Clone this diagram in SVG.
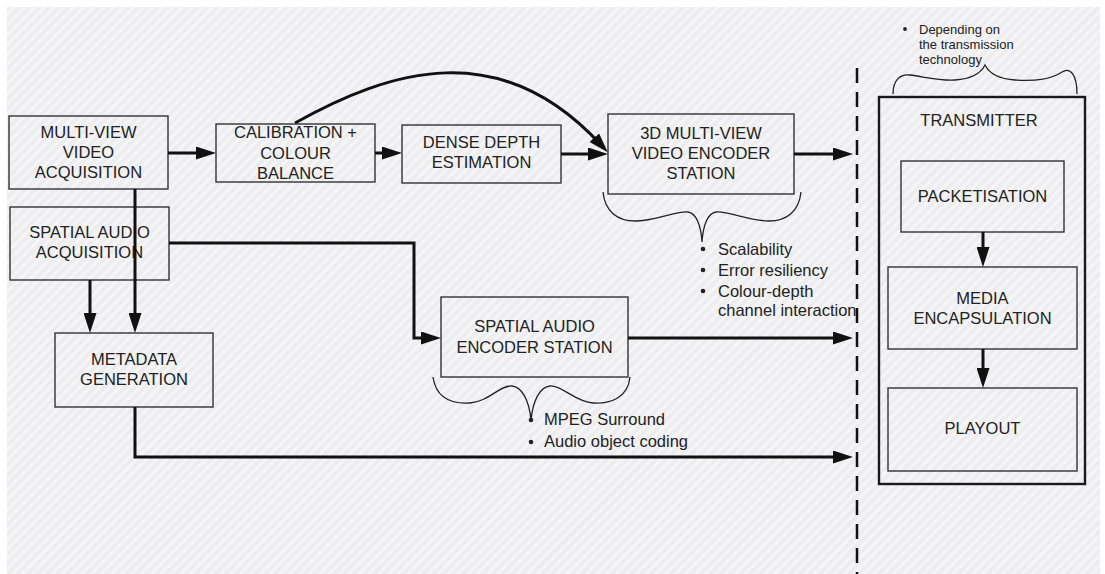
<svg xmlns="http://www.w3.org/2000/svg" width="1105" height="574" viewBox="0 0 1105 574">
  <defs>
    <pattern id="hatch" width="7" height="7" patternUnits="userSpaceOnUse" patternTransform="rotate(45)">
      <rect width="7" height="7" fill="#ededef"/>
      <rect width="3" height="7" fill="#f5f5f6"/>
    </pattern>
    <marker id="arrow" viewBox="0 0 20 13" markerWidth="20" markerHeight="13" markerUnits="userSpaceOnUse" refX="10" refY="6.5" orient="auto">
      <path d="M0,0 L20,6.5 L0,13 z" fill="#111"/>
    </marker>
    <style>
      .box { fill: none; stroke: #333; stroke-width: 1.4; }
      .outer { fill: none; stroke: #1a1a1a; stroke-width: 2.4; }
      .lbl { font-family: "Liberation Sans", Arial, sans-serif; font-size: 16.5px; fill: #222; text-anchor: middle; }
      .note { font-family: "Liberation Sans", Arial, sans-serif; font-size: 16.5px; fill: #222; }
      .small { font-family: "Liberation Sans", Arial, sans-serif; font-size: 13px; fill: #222; }
      .conn { fill: none; stroke: #111; stroke-width: 3; }
      .brace { fill: none; stroke: #222; stroke-width: 1.3; }
      .dash { fill: none; stroke: #111; stroke-width: 2.5; stroke-dasharray: 15 9; }
    </style>
  </defs>

  <!-- page background -->
  <rect width="1105" height="574" fill="#ffffff"/>
  <rect x="7" y="7" width="1093" height="567" fill="url(#hatch)"/>

  <!-- boundary between capture/encoding and transmission -->
  <line class="dash" x1="857" y1="68" x2="857" y2="574"/>

  <g id="multiview-acquisition">
    <rect class="box" x="9" y="116" width="159" height="73"/>
    <text class="lbl" x="88.5" y="138">MULTI-VIEW</text>
    <text class="lbl" x="88.5" y="158">VIDEO</text>
    <text class="lbl" x="88.5" y="178">ACQUISITION</text>
  </g>

  <g id="calibration">
    <rect class="box" x="216" y="124" width="159" height="58"/>
    <text class="lbl" x="295.5" y="138">CALIBRATION +</text>
    <text class="lbl" x="295.5" y="159">COLOUR</text>
    <text class="lbl" x="295.5" y="179">BALANCE</text>
  </g>

  <g id="dense-depth">
    <rect class="box" x="402" y="125" width="159" height="58"/>
    <text class="lbl" x="481.5" y="148">DENSE DEPTH</text>
    <text class="lbl" x="481.5" y="168">ESTIMATION</text>
  </g>

  <g id="video-encoder">
    <rect class="box" x="608" y="114" width="186" height="80"/>
    <text class="lbl" x="701" y="139">3D MULTI-VIEW</text>
    <text class="lbl" x="701" y="159">VIDEO ENCODER</text>
    <text class="lbl" x="701" y="179">STATION</text>
    <path class="brace" d="M603,192 C605,212 618,221 635,221 C655,221 675,211 688,212 C696,213 701,225 702,242 C703,225 708,213 716,212 C729,211 749,221 769,221 C786,221 799,212 801,192"/>
    <circle cx="703" cy="249" r="2.3" fill="#222"/>
    <text class="note" x="718" y="255">Scalability</text>
    <circle cx="703" cy="270" r="2.3" fill="#222"/>
    <text class="note" x="718" y="276">Error resiliency</text>
    <circle cx="703" cy="291" r="2.3" fill="#222"/>
    <text class="note" x="718" y="297">Colour-depth</text>
    <text class="note" x="718" y="316">channel interaction</text>
  </g>

  <g id="audio-acquisition">
    <rect class="box" x="10" y="207" width="159" height="73"/>
    <text class="lbl" x="89.5" y="238">SPATIAL AUDIO</text>
    <text class="lbl" x="89.5" y="258">ACQUISITION</text>
  </g>

  <g id="metadata">
    <rect class="box" x="55" y="333" width="158" height="74"/>
    <text class="lbl" x="134" y="365">METADATA</text>
    <text class="lbl" x="134" y="385">GENERATION</text>
  </g>

  <g id="audio-encoder">
    <rect class="box" x="441" y="297" width="187" height="80"/>
    <text class="lbl" x="534.5" y="332">SPATIAL AUDIO</text>
    <text class="lbl" x="534.5" y="353">ENCODER STATION</text>
    <path class="brace" d="M433,377 C436,398 452,404 470,403 C488,402 500,385 512,386 C522,387 529,400 531,420 C533,400 540,387 550,386 C562,385 575,402 593,403 C610,404 628,398 630,377"/>
    <circle cx="531" cy="420" r="2.3" fill="#222"/>
    <text class="note" x="544" y="425">MPEG Surround</text>
    <circle cx="531" cy="442" r="2.3" fill="#222"/>
    <text class="note" x="544" y="447">Audio object coding</text>
  </g>

  <g id="transmitter">
    <rect class="outer" x="879" y="97" width="206" height="387"/>
    <text class="lbl" x="979" y="126">TRANSMITTER</text>
    <path class="brace" d="M893,94 C893,80 900,74 910,75 C925,77 940,81 955,80 C970,79 980,75 985,65 C990,75 1000,79 1015,80 C1035,81 1050,80 1062,72 C1070,67 1077,74 1077,94"/>
    <circle cx="905" cy="29" r="1.9" fill="#222"/>
    <text class="small" x="919" y="34">Depending on</text>
    <text class="small" x="919" y="49">the transmission</text>
    <text class="small" x="919" y="64">technology</text>
  </g>

  <g id="packetisation">
    <rect class="box" x="901" y="161" width="163" height="71"/>
    <text class="lbl" x="982.5" y="202">PACKETISATION</text>
  </g>

  <g id="media-encapsulation">
    <rect class="box" x="888" y="267" width="189" height="82"/>
    <text class="lbl" x="982.5" y="304">MEDIA</text>
    <text class="lbl" x="982.5" y="324">ENCAPSULATION</text>
  </g>

  <g id="playout">
    <rect class="box" x="888" y="388" width="189" height="83"/>
    <text class="lbl" x="982.5" y="434">PLAYOUT</text>
  </g>

  <g id="connectors">
    <path class="conn" marker-end="url(#arrow)" d="M168,153 H206"/>
    <path class="conn" marker-end="url(#arrow)" d="M375,153 H392"/>
    <path class="conn" marker-end="url(#arrow)" d="M561,154 H598"/>
    <path class="conn" marker-end="url(#arrow)" d="M295,123 C390,70 500,35 601,145"/>
    <path class="conn" marker-end="url(#arrow)" d="M794,154 H843"/>
    <path class="conn" marker-end="url(#arrow)" d="M135,189 V323"/>
    <path class="conn" marker-end="url(#arrow)" d="M90,280 V323"/>
    <path class="conn" marker-end="url(#arrow)" d="M169,243 H414 V338 H431"/>
    <path class="conn" marker-end="url(#arrow)" d="M628,338 H843"/>
    <path class="conn" marker-end="url(#arrow)" d="M135,407 V457 H843"/>
    <path class="conn" marker-end="url(#arrow)" d="M983,232 V257"/>
    <path class="conn" marker-end="url(#arrow)" d="M983,349 V378"/>
  </g>
</svg>
